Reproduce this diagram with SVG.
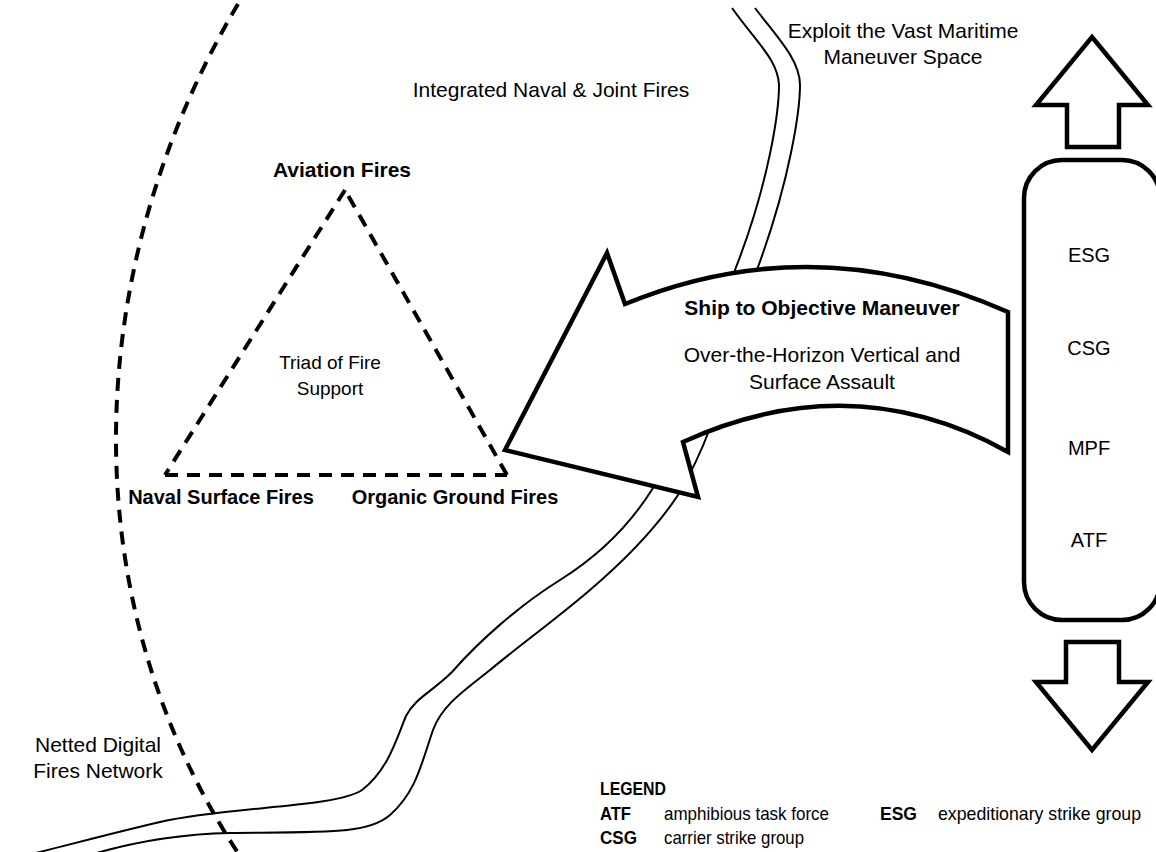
<svg xmlns="http://www.w3.org/2000/svg" width="1156" height="852" viewBox="0 0 1156 852">
  <style>
    .lbl { font-family: "Liberation Sans", Arial, sans-serif; font-size: 21px; fill: #000; }
    .sm { font-size: 20px; }
    .b { font-weight: bold; }
    .mid { text-anchor: middle; }
    .leg { font-family: "Liberation Sans", Arial, sans-serif; font-size: 18.5px; fill: #000; }
    .dash { fill: none; stroke: #000; stroke-width: 4; stroke-dasharray: 13 9; }
    .river { fill: none; stroke: #000; stroke-width: 2; }
    .solid { fill: #fff; stroke: #000; stroke-width: 4.5; stroke-linejoin: miter; }
  </style>
  <rect width="1156" height="852" fill="#fff"/>

  <!-- network boundary arc -->
  <g id="network-arc">
    <path class="dash" d="M238,4 C80,270 70,600 240,856"/>
  </g>

  <!-- double-line shoreline / route -->
  <g id="connectors">
    <path class="river" d="M732,8 C757,43 778,60 779,85 C779,110 770,180 735,270 C715,340 680,420 653,488 C630,525 600,555 560,580 C520,605 480,640 452,672 C432,692 415,698 406,716 C396,740 388,770 362,790 C335,808 230,806 160,822 C100,836 50,850 15,858"/>
    <path class="river" d="M755,8 C777,37 800,60 800,85 C800,110 790,180 758,267 C740,330 725,390 710,428 C700,455 690,475 678,495 C655,530 625,560 590,590 C555,620 520,645 490,670 C465,690 442,705 433,730 C421,765 416,792 390,815 C368,834 330,832 230,833 C180,834 130,842 80,858"/>
  </g>

  <!-- triad of fire support -->
  <g id="triad">
    <path class="dash" d="M345,190 L165,475"/>
    <path class="dash" d="M165,475 L507,475"/>
    <path class="dash" d="M507,475 L345,190"/>
    <text class="lbl mid" style="font-size:19px" x="330" y="369">Triad of Fire</text>
    <text class="lbl mid" style="font-size:19px" x="330" y="395">Support</text>
  </g>
  <g id="aviation-fires"><text class="lbl b mid" x="342" y="177">Aviation Fires</text></g>
  <g id="naval-surface-fires"><text class="lbl sm b mid" x="221" y="504">Naval Surface Fires</text></g>
  <g id="organic-ground-fires"><text class="lbl sm b mid" x="455" y="504">Organic Ground Fires</text></g>

  <g id="integrated-fires"><text class="lbl mid" x="551" y="97">Integrated Naval &amp; Joint Fires</text></g>
  <g id="netted-network">
    <text class="lbl mid" x="98" y="752">Netted Digital</text>
    <text class="lbl mid" x="98" y="778">Fires Network</text>
  </g>
  <g id="maritime-space">
    <text class="lbl mid" x="903" y="38">Exploit the Vast Maritime</text>
    <text class="lbl mid" x="903" y="64">Maneuver Space</text>
  </g>

  <!-- curved ship-to-objective arrow -->
  <g id="stom-arrow">
    <path class="solid" d="M505,450 L607,253 L625,304 Q815,226 1008,312 L1008,452 Q852,365 683,442 L698,497 Z"/>
    <text class="lbl b mid" x="822" y="315">Ship to Objective Maneuver</text>
    <text class="lbl mid" x="822" y="362">Over-the-Horizon Vertical and</text>
    <text class="lbl mid" x="822" y="389">Surface Assault</text>
  </g>

  <!-- sea base column -->
  <g id="sea-base">
    <rect class="solid" x="1024" y="160" width="136" height="460" rx="38" ry="38"/>
    <text class="lbl sm mid" x="1089" y="262">ESG</text>
    <text class="lbl sm mid" x="1089" y="355">CSG</text>
    <text class="lbl sm mid" x="1089" y="455">MPF</text>
    <text class="lbl sm mid" x="1089" y="547">ATF</text>
  </g>
  <g id="arrow-up">
    <path class="solid" d="M1092,37 L1148,105 L1119,105 L1119,147 L1067,147 L1067,105 L1036,105 Z"/>
  </g>
  <g id="arrow-down">
    <path class="solid" d="M1066,642 L1119,642 L1119,682 L1148,682 L1092,750 L1036,682 L1066,682 Z"/>
  </g>

  <!-- legend (condensed type) -->
  <g id="legend">
    <text class="leg b" x="600" y="795" textLength="66" lengthAdjust="spacingAndGlyphs">LEGEND</text>
    <text class="leg b" x="600" y="820" textLength="31" lengthAdjust="spacingAndGlyphs">ATF</text>
    <text class="leg" x="664" y="820" textLength="165" lengthAdjust="spacingAndGlyphs">amphibious task force</text>
    <text class="leg b" x="880" y="820" textLength="37" lengthAdjust="spacingAndGlyphs">ESG</text>
    <text class="leg" x="938" y="820" textLength="203" lengthAdjust="spacingAndGlyphs">expeditionary strike group</text>
    <text class="leg b" x="600" y="844" textLength="37" lengthAdjust="spacingAndGlyphs">CSG</text>
    <text class="leg" x="664" y="844" textLength="140" lengthAdjust="spacingAndGlyphs">carrier strike group</text>
  </g>
</svg>
